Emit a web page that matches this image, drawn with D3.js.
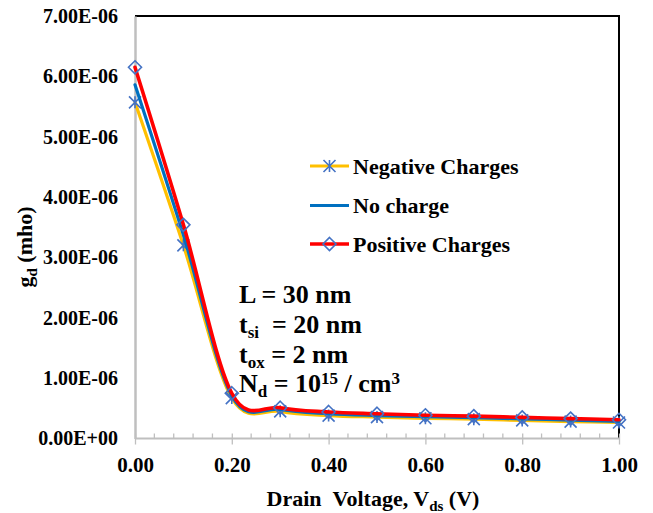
<!DOCTYPE html>
<html>
<head>
<meta charset="utf-8">
<script src="https://cdn.jsdelivr.net/npm/d3@7"></script>
<style>
  html, body { margin: 0; padding: 0; background: #fff; }
  svg { display: block; }
  svg text { font-family: "Liberation Serif", Tinos, "Times New Roman", Times, "DejaVu Serif", "Noto Serif", serif !important; font-weight: 700; fill: #000; }
</style>
</head>
<body>
<svg id="chart" width="653" height="513"></svg>
<script>
// Drain voltage samples (V)
const vds = [0.0, 0.1, 0.2, 0.3, 0.4, 0.5, 0.6, 0.7, 0.8, 0.9, 1.0];

// Output conductance g_d (mho) for each oxide charge case
const negativeCharges = [5.57e-6, 3.20e-6, 0.67e-6, 0.45e-6, 0.38e-6, 0.355e-6, 0.335e-6, 0.32e-6, 0.30e-6, 0.28e-6, 0.265e-6];
const noCharge        = [5.86e-6, 3.37e-6, 0.71e-6, 0.48e-6, 0.41e-6, 0.38e-6, 0.36e-6, 0.345e-6, 0.325e-6, 0.305e-6, 0.285e-6];
const positiveCharges = [6.15e-6, 3.54e-6, 0.75e-6, 0.51e-6, 0.44e-6, 0.41e-6, 0.385e-6, 0.37e-6, 0.35e-6, 0.33e-6, 0.31e-6];

const seriesNames = ["Negative Charges", "No charge", "Positive Charges"];
const xTicks = [0, 0.2, 0.4, 0.6, 0.8, 1.0];
const yTicks = [0, 1e-6, 2e-6, 3e-6, 4e-6, 5e-6, 6e-6, 7e-6];

const svg = d3.select("#chart");
const plotLeft = 135, plotRight = 619, plotTop = 16, plotBottom = 438.5;

const x = d3.scaleLinear().domain([0, 1]).range([plotLeft, plotRight]);
const y = d3.scaleLinear().domain([0, 7e-6]).range([plotBottom, plotTop]);

// plot frame: black top/right edges
svg.append("path")
  .attr("d", `M${plotLeft},${plotTop}H${plotRight}V${plotBottom}`)
  .attr("fill", "none").attr("stroke", "#000").attr("stroke-width", 2);

// minor x ticks every 0.04 (inside, upward)
const minor = d3.range(0, 1.0001, 0.04).filter(v => Math.abs(v / 0.2 - Math.round(v / 0.2)) > 1e-6);
svg.append("g").selectAll("line").data(minor).join("line")
  .attr("x1", d => x(d)).attr("x2", d => x(d))
  .attr("y1", plotBottom - 5).attr("y2", plotBottom)
  .attr("stroke", "#bfbfbf").attr("stroke-width", 1.3);

// x axis
const xAxis = d3.axisBottom(x).tickValues(xTicks).tickFormat(d3.format(".2f"))
  .tickSizeInner(6).tickSizeOuter(0).tickPadding(13);
const gx = svg.append("g").attr("transform", `translate(0,${plotBottom})`).call(xAxis);
gx.attr("font-family", null).attr("font-size", null);
gx.select(".domain").attr("stroke", "#bfbfbf").attr("stroke-width", 2).attr("d", `M${plotLeft},0H${plotRight}`);
gx.selectAll(".tick line").attr("stroke", "#bfbfbf").attr("stroke-width", 1.3).attr("y1", -5);
gx.selectAll(".tick text").attr("font-size", 21).attr("fill", "#000");

// y axis
const fmtE = v => {
  if (v === 0) return "0.00E+00";
  const e = Math.floor(Math.log10(v) + 1e-9);
  const m = v / Math.pow(10, e);
  return m.toFixed(2) + "E" + (e < 0 ? "-" : "+") + String(Math.abs(e)).padStart(2, "0");
};
const yAxis = d3.axisLeft(y).tickValues(yTicks).tickFormat(fmtE).tickSize(0).tickPadding(17);
const gy = svg.append("g").attr("transform", `translate(${plotLeft},0)`).call(yAxis);
gy.attr("font-family", null).attr("font-size", null);
gy.select(".domain").attr("stroke", "#bfbfbf").attr("stroke-width", 2.5);
gy.selectAll(".tick text").attr("font-size", 20).attr("fill", "#000");

// axis titles
const xt = svg.append("text").attr("x", 373).attr("y", 506).attr("text-anchor", "middle").attr("font-size", 22);
xt.append("tspan").text("Drain\u00a0\u00a0Voltage, V");
xt.append("tspan").attr("font-size", 15).attr("dy", 5).text("ds");
xt.append("tspan").attr("dy", -5).text(" (V)");

const yt = svg.append("text").attr("transform", "translate(32,247) rotate(-90)").attr("text-anchor", "middle").attr("font-size", 22);
yt.append("tspan").text("g");
yt.append("tspan").attr("font-size", 15).attr("dy", 5).text("d");
yt.append("tspan").attr("dy", -5).text(" (mho)");

// series
const curve = d3.curveCatmullRom.alpha(0);
const line = d3.line().x((d, i) => x(vds[i])).y(d => y(d)).curve(curve);
const markerColor = "#4472c4";

const asterisk = (g, cx, cy) => {
  const r = 6;
  g.append("path")
    .attr("d", `M${cx - r},${cy - r}L${cx + r},${cy + r}M${cx - r},${cy + r}L${cx + r},${cy - r}M${cx},${cy - r}V${cy + r}`)
    .attr("stroke", markerColor).attr("stroke-width", 1.6).attr("fill", "none");
};
const diamond = (g, cx, cy) => {
  const r = 6.5;
  g.append("path")
    .attr("d", `M${cx},${cy - r}L${cx + r},${cy}L${cx},${cy + r}L${cx - r},${cy}Z`)
    .attr("stroke", markerColor).attr("stroke-width", 1.6).attr("fill", "none");
};

const series = [
  { name: seriesNames[0], values: negativeCharges, color: "#ffc000", width: 3.2, marker: asterisk },
  { name: seriesNames[1], values: noCharge, color: "#0070c0", width: 3.2, marker: null },
  { name: seriesNames[2], values: positiveCharges, color: "#ff0000", width: 3.6, marker: diamond }
];

const plot = svg.append("g");
series.forEach(s => {
  plot.append("path").datum(s.values).attr("d", line)
    .attr("fill", "none").attr("stroke", s.color).attr("stroke-width", s.width)
    .attr("stroke-linejoin", "round").attr("stroke-linecap", "round");
  if (s.marker) {
    const mg = plot.append("g");
    s.values.forEach((v, i) => s.marker(mg, x(vds[i]), y(v)));
  }
});

// legend
const legend = svg.append("g");
const legendY = [166, 205.5, 244];
series.forEach((s, i) => {
  const ly = legendY[i];
  legend.append("line").attr("x1", 310).attr("x2", 349).attr("y1", ly).attr("y2", ly)
    .attr("stroke", s.color).attr("stroke-width", s.width);
  if (s.marker) s.marker(legend, 329.5, ly);
  legend.append("text").attr("x", 353).attr("y", ly + 7.5).attr("font-size", 22).text(s.name);
});

// device parameters
const ann = svg.append("g").attr("font-size", 26);
const a1 = ann.append("text").attr("x", 239).attr("y", 303);
a1.append("tspan").text("L = 30 nm");
const a2 = ann.append("text").attr("x", 239).attr("y", 333);
a2.append("tspan").text("t");
a2.append("tspan").attr("font-size", 17).attr("dy", 5).text("si");
a2.append("tspan").attr("dy", -5).text("\u00a0 = 20 nm");
const a3 = ann.append("text").attr("x", 239).attr("y", 363);
a3.append("tspan").text("t");
a3.append("tspan").attr("font-size", 17).attr("dy", 5).text("ox");
a3.append("tspan").attr("dy", -5).text(" = 2 nm");
const a4 = ann.append("text").attr("x", 239).attr("y", 392);
a4.append("tspan").text("N");
a4.append("tspan").attr("font-size", 17).attr("dy", 5).text("d");
a4.append("tspan").attr("dy", -5).text(" = 10");
a4.append("tspan").attr("font-size", 17).attr("dy", -8).text("15");
a4.append("tspan").attr("dy", 8).text(" / cm");
a4.append("tspan").attr("font-size", 17).attr("dy", -8).text("3");
</script>
</body>
</html>
